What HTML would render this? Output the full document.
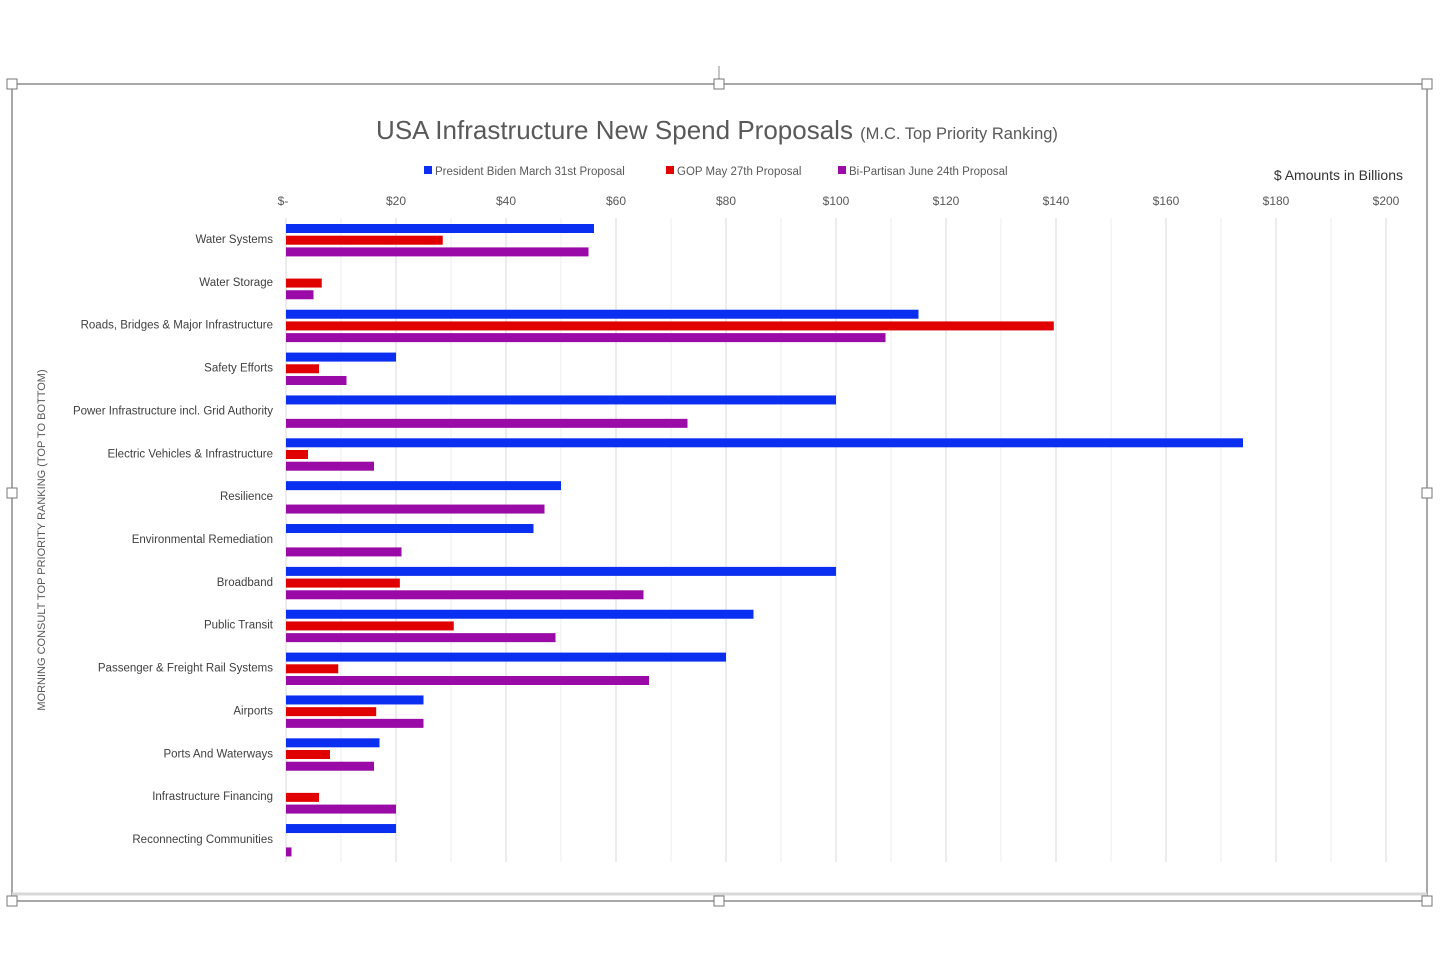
<!DOCTYPE html>
<html><head><meta charset="utf-8"><style>
body{margin:0;background:#fff;font-family:"Liberation Sans",sans-serif;}
svg{display:block}
</style></head><body>
<svg id="c" width="1440" height="960">
<g>
<rect x="12" y="84" width="1415" height="817" fill="none" stroke="#8c8c8c" stroke-width="1.5"/>
<line x1="12" y1="894" x2="1427" y2="894" stroke="#d8d8d8" stroke-width="3"/>
<line x1="719" y1="66" x2="719" y2="84" stroke="#8c8c8c"/>
</g>
<g id="handles"></g>
<text x="717" y="139" text-anchor="middle" font-size="26" fill="#595959">USA Infrastructure New Spend Proposals <tspan font-size="16.5">(M.C. Top Priority Ranking)</tspan></text>
<g id="legend"></g>
<text x="1403" y="180" text-anchor="end" font-size="14" fill="#333">$ Amounts in Billions</text>
<text transform="translate(45,540) rotate(-90)" text-anchor="middle" font-size="11" fill="#595959">MORNING CONSULT TOP PRIORITY RANKING (TOP TO BOTTOM)</text>
<g id="grid"></g>
<g id="xt"></g>
<g id="yt"></g>
<g id="bars"></g>
</svg>
<script>
const categories=["Water Systems","Water Storage","Roads, Bridges & Major Infrastructure","Safety Efforts","Power Infrastructure incl. Grid Authority","Electric Vehicles & Infrastructure","Resilience","Environmental Remediation","Broadband","Public Transit","Passenger & Freight Rail Systems","Airports","Ports And Waterways","Infrastructure Financing","Reconnecting Communities"];
const biden=[56,0,115,20,100,174,50,45,100,85,80,25,17,0,20];
const gop=[28.5,6.5,139.6,6,0,4,0,0,20.7,30.5,9.5,16.4,8,6,0];
const bipartisan=[55,5,109,11,73,16,47,21,65,49,66,25,16,20,1];
const tickVals=[0,20,40,60,80,100,120,140,160,180,200];
const tickLabels=["$-","$20","$40","$60","$80","$100","$120","$140","$160","$180","$200"];
const seriesNames=["President Biden March 31st Proposal","GOP May 27th Proposal","Bi-Partisan June 24th Proposal"];
const colors=["#0b2ff0","#e00000","#9a0aa6"];
const NS="http://www.w3.org/2000/svg";
const x=v=>286+v*5.5;
const y=i=>239+i*42.86;
function mk(t,a,p){const e=document.createElementNS(NS,t);for(const k in a)e.setAttribute(k,a[k]);p.appendChild(e);return e;}
const grid=document.getElementById('grid');
for(let v=0;v<=200;v+=10){const l=mk('line',{x1:x(v),x2:x(v),y1:218,y2:862,stroke:v%20?'#ececec':'#d9d9d9','stroke-width':1},grid);

}
const xt=document.getElementById('xt');
tickVals.forEach((v,i)=>{const t=mk('text',{x:x(v)+(i?0:-3),y:205,'text-anchor':'middle','font-size':12,fill:'#595959'},xt);t.textContent=tickLabels[i];

});
const yt=document.getElementById('yt');
categories.forEach((c,i)=>{const t=mk('text',{x:273,y:y(i)+4,'text-anchor':'end','font-size':11.5,fill:'#404040'},yt);t.textContent=c;

});
const bars=document.getElementById('bars');
[biden,gop,bipartisan].forEach((s,k)=>{s.forEach((v,i)=>{if(v<=0)return;const r=mk('rect',{x:x(0),y:y(i)-15+k*11.7,width:x(v)-x(0),height:9,fill:colors[k]},bars);

});});
const lg=document.getElementById('legend');const lx=[424,666,838];
seriesNames.forEach((n,k)=>{const r=mk('rect',{x:lx[k],y:166,width:8,height:8,fill:colors[k]},lg);


const t=mk('text',{x:lx[k]+11,y:175,'font-size':11.5,fill:'#595959'},lg);t.textContent=n;

});
const h=document.getElementById('handles');
[[12,84],[719,84],[1427,84],[12,493],[1427,493],[12,901],[719,901],[1427,901]].forEach(p=>{const r=mk('rect',{x:p[0]-5,y:p[1]-5,width:10,height:10,fill:'#fff',stroke:'#777'},h);

});
</script>
</body></html>
